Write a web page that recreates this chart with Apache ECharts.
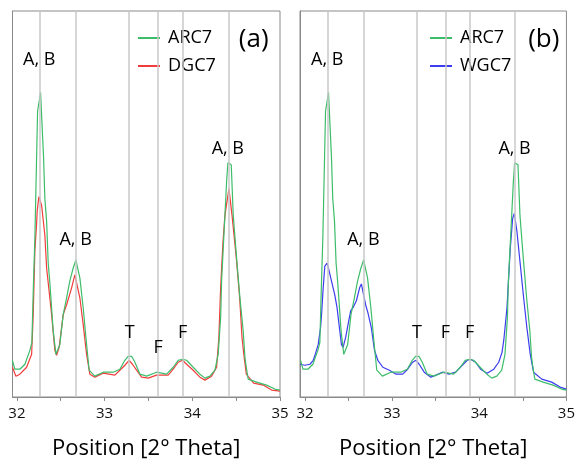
<!DOCTYPE html>
<html>
<head>
<meta charset="utf-8">
<script src="https://cdn.jsdelivr.net/npm/echarts@6/dist/echarts.min.js"></script>
<style>
  html, body { margin: 0; padding: 0; background: #fff; }
  #chart { width: 578px; height: 465px; }
</style>
</head>
<body>
<div id="chart"></div>
<script>
// ARC7 (same pattern in both panels)
const thetaArc = [31.949, 31.977, 32.034, 32.091, 32.148, 32.171, 32.186, 32.205, 32.222, 32.236, 32.270, 32.304, 32.319, 32.339, 32.357, 32.376, 32.414, 32.445, 32.460, 32.490, 32.528, 32.567, 32.604, 32.642, 32.673, 32.688, 32.718, 32.756, 32.787, 32.824, 32.889, 32.984, 33.098, 33.174, 33.231, 33.269, 33.308, 33.346, 33.403, 33.479, 33.593, 33.707, 33.782, 33.839, 33.889, 33.935, 34.010, 34.087, 34.144, 34.201, 34.258, 34.295, 34.323, 34.334, 34.372, 34.391, 34.406, 34.444, 34.467, 34.505, 34.543, 34.580, 34.600, 34.619, 34.637, 34.733, 34.847, 34.942, 35.0];
const arc7 = [37, 28, 28, 33, 47, 55, 105, 160, 230, 288, 307, 242, 200, 177, 135, 115, 67, 43, 42, 53, 83, 100, 117, 130, 138, 139, 120, 90, 60, 27, 21, 25, 25, 28, 37, 41, 41, 35, 23, 21, 25, 23, 30, 37, 38, 37, 30, 23, 19, 21, 27, 43, 80, 117, 183, 217, 236, 234, 183, 140, 100, 67, 40, 28, 18, 15, 12, 8, 7];

// DGC7
const thetaDgc = [31.949, 31.989, 32.034, 32.111, 32.168, 32.186, 32.205, 32.225, 32.231, 32.251, 32.282, 32.319, 32.339, 32.396, 32.433, 32.453, 32.482, 32.528, 32.567, 32.624, 32.661, 32.681, 32.718, 32.756, 32.795, 32.832, 32.889, 32.984, 33.117, 33.174, 33.231, 33.280, 33.318, 33.365, 33.422, 33.497, 33.593, 33.725, 33.782, 33.839, 33.889, 33.935, 34.010, 34.087, 34.144, 34.220, 34.277, 34.303, 34.323, 34.349, 34.372, 34.418, 34.453, 34.502, 34.540, 34.567, 34.585, 34.616, 34.699, 34.808, 34.904, 35.0];
const dgc7 = [30, 21, 23, 30, 43, 83, 147, 175, 187, 202, 193, 163, 130, 83, 47, 42, 50, 83, 93, 110, 123, 123, 100, 73, 43, 23, 20, 24, 22, 27, 32, 37, 33, 27, 20, 19, 22, 22, 28, 35, 37, 33, 27, 20, 17, 21, 30, 60, 110, 155, 183, 210, 183, 140, 100, 60, 45, 23, 14, 12, 7, 6];

// WGC7
const thetaWgc = [31.943, 32.0, 32.057, 32.095, 32.125, 32.152, 32.179, 32.190, 32.209, 32.228, 32.254, 32.277, 32.304, 32.342, 32.368, 32.399, 32.418, 32.437, 32.467, 32.494, 32.525, 32.551, 32.590, 32.627, 32.647, 32.665, 32.696, 32.722, 32.761, 32.798, 32.836, 32.893, 32.969, 33.046, 33.121, 33.178, 33.235, 33.274, 33.311, 33.368, 33.445, 33.502, 33.577, 33.653, 33.730, 33.805, 33.862, 33.901, 33.958, 34.015, 34.090, 34.167, 34.223, 34.261, 34.281, 34.318, 34.356, 34.383, 34.402, 34.432, 34.471, 34.509, 34.546, 34.585, 34.623, 34.717, 34.831, 34.927, 35.0];
const wgc7 = [33, 32, 33, 37, 45, 53, 70, 83, 110, 132, 135, 127, 117, 103, 90, 67, 53, 50, 60, 73, 87, 90, 97, 110, 114, 114, 93, 85, 70, 47, 37, 30, 27, 23, 23, 28, 35, 37, 33, 25, 20, 22, 25, 23, 25, 32, 37, 38, 35, 28, 24, 28, 35, 45, 57, 90, 150, 180, 185, 167, 133, 100, 70, 43, 25, 18, 15, 10, 8];

// reference lines and peak tags
const peakPos = [32.255, 32.67, 33.285, 33.61, 33.89, 34.405];
const peakTags = ['A, B', 'A, B', 'T', 'F', 'F', 'A, B'];
const tagHeightA = [340, 158, 65, 50, 65, 250];
const tagHeightB = [340, 158, 65, 65, 65, 250];
const xLabels = [32, 33, 34, 35];
const xTicks = [32, 32.5, 33, 33.5, 34, 34.5, 35];

const FONT = 'Open Sans';
const zip = (xs, ys) => xs.map((x, i) => [x, ys[i]]);

const myChart = echarts.init(document.getElementById('chart'));

const makeX = (idx, min) => ({
  type: 'value',
  gridIndex: idx,
  min: min,
  max: 35,
  name: 'Position [2° Theta]',
  nameLocation: 'middle',
  nameGap: 41,
  nameTextStyle: { fontFamily: FONT, fontSize: 22, color: '#000' },
  axisLine: { show: true, lineStyle: { color: '#8a8a8a', width: 1 } },
  axisTick: { show: true, length: 4, customValues: xTicks, lineStyle: { color: '#8a8a8a' } },
  axisLabel: { customValues: xLabels, fontFamily: FONT, fontSize: 15, color: '#111', margin: 9 },
  splitLine: { show: false },
});

const makeY = (idx) => ({
  type: 'value',
  gridIndex: idx,
  min: 0,
  max: 389,
  axisLine: { show: true, lineStyle: { color: '#8a8a8a' } },
  axisTick: { show: false },
  axisLabel: { show: false },
  splitLine: { show: false },
});

const guides = (idx, heights, panel, panelX) => ({
  type: 'line',
  xAxisIndex: idx,
  yAxisIndex: idx,
  data: [],
  z: 1,
  silent: true,
  markLine: {
    silent: true,
    symbol: 'none',
    animation: false,
    label: { show: false },
    lineStyle: { color: '#c8c8c8', width: 1.5, type: 'solid' },
    data: peakPos.map((x) => ({ xAxis: x })),
  },
  markPoint: {
    silent: true,
    animation: false,
    symbol: 'circle',
    symbolSize: 1,
    itemStyle: { color: 'rgba(0,0,0,0)' },
    label: {
      show: true,
      position: 'inside',
      formatter: '{b}',
      fontFamily: FONT,
      fontSize: 18,
      color: '#000',
    },
    data: peakPos
      .map((x, i) => ({ name: peakTags[i], coord: [x, heights[i]] }))
      .concat([{ name: panel, coord: [panelX, 360], label: { fontSize: 26 } }]),
  },
});

const curve = (idx, name, xs, ys, color) => ({
  type: 'line',
  name: name,
  xAxisIndex: idx,
  yAxisIndex: idx,
  data: zip(xs, ys),
  symbol: 'none',
  z: 3,
  animation: false,
  lineStyle: { color: color, width: 1.2 },
  itemStyle: { color: color },
});

const legendBase = {
  orient: 'vertical',
  top: 23,
  icon: 'rect',
  itemWidth: 22,
  itemHeight: 2,
  itemGap: 8,
  textStyle: {
    fontFamily: FONT,
    fontSize: 18,
    lineHeight: 20,
    color: '#000',
    backgroundColor: '#fff',
    padding: [0, 0, 0, 3],
  },
  selectedMode: false,
};

const option = {
  backgroundColor: '#fff',
  animation: false,
  grid: [
    { left: 12.5, top: 11, width: 267.5, height: 389, show: true, borderColor: '#8a8a8a', borderWidth: 1, backgroundColor: 'transparent' },
    { left: 300, top: 11, width: 268, height: 389, show: true, borderColor: '#8a8a8a', borderWidth: 1, backgroundColor: 'transparent' },
  ],
  xAxis: [makeX(0, 31.95), makeX(1, 31.943)],
  yAxis: [makeY(0), makeY(1)],
  legend: [
    Object.assign({}, legendBase, { left: 133, data: ['ARC7', 'DGC7'] }),
    Object.assign({}, legendBase, { left: 425, data: ['ARC7', 'WGC7'] }),
  ],
  series: [
    guides(0, tagHeightA, '(a)', 34.70),
    guides(1, tagHeightB, '(b)', 34.74),
    curve(0, 'DGC7', thetaDgc, dgc7, '#f23c3c'),
    curve(0, 'ARC7', thetaArc, arc7, '#3dbd6a'),
    curve(1, 'WGC7', thetaWgc, wgc7, '#3c3cf0'),
    curve(1, 'ARC7', thetaArc, arc7, '#3dbd6a'),
  ],
};

myChart.setOption(option);
</script>
</body>
</html>
